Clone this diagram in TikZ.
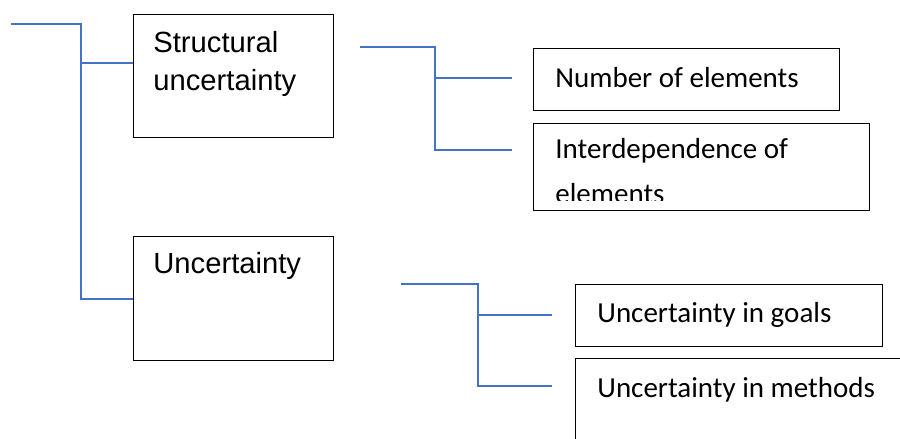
\documentclass[tikz,border=0pt]{standalone}
\usepackage{fontspec}
\setmainfont{Liberation Sans}
\newfontfamily\calibri{Carlito}
\usetikzlibrary{positioning}
\definecolor{linkblue}{RGB}{68,114,196}

\tikzset{
  box/.style={draw=black, line width=0.7pt, inner sep=0pt, anchor=north west},
  arialtxt/.style={font=\fontsize{14.6}{19}\selectfont, inner sep=0pt, align=left, anchor=base west},
  calibtxt/.style={font=\calibri\fontsize{14.5}{22.5}\selectfont, inner sep=0pt, align=left, anchor=base west},
  link/.style={draw=linkblue, line width=0.95pt}
}

\begin{document}
\begin{tikzpicture}[x=0.5pt,y=-0.5pt]
\clip (0,0) rectangle (900,439);

\node[box, minimum width=100pt, minimum height=61.5pt] (S) at (133,14) {};
\node[box, minimum width=100pt, minimum height=62pt] (U) at (133,236) {};
\node[box, minimum width=153pt, minimum height=31pt] (N) at (533,48) {};
\node[box, minimum width=168pt, minimum height=43.5pt] (I) at (533,123) {};
\node[box, minimum width=153.5pt, minimum height=31pt] (G) at (575,284) {};
\node[box, minimum width=170pt, minimum height=50pt] (M) at (575,358) {};

% base anchor sits on the last line
\node[arialtxt] (S-t) at ([shift={(20,76)}]S.north west) {Structural\\uncertainty};
\node[arialtxt] (U-t) at ([shift={(20,37)}]U.north west) {Uncertainty};
\node[calibtxt] (N-t) at ([shift={(22,39)}]N.north west) {Number of elements};
\begin{scope}
\clip (I.north west) rectangle ([yshift=5.5pt]I.south east);
\node[calibtxt] (I-t) at ([shift={(22,80)}]I.north west) {Interdependence of\\elements};
\end{scope}
\node[calibtxt] (G-t) at ([shift={(22,38)}]G.north west) {Uncertainty in goals};
\node[calibtxt] (M-t) at ([shift={(22,39)}]M.north west) {Uncertainty in methods};

\coordinate (root) at (11,24);
\coordinate (fork1) at (81,24);
\coordinate (S-in) at ([yshift=6.75pt]S.west);
\draw[link] (root) -- (fork1) |- (U.west);
\draw[link] (fork1 |- S-in) -- (S-in);

\coordinate (s-from) at (360,47);
\coordinate (fork2) at (435,47);
\coordinate (N-in) at (512,78);
\coordinate (I-in) at (512,150);
\draw[link] (s-from) -- (fork2) |- (I-in);
\draw[link] (fork2 |- N-in) -- (N-in);

\coordinate (u-from) at (401,284);
\coordinate (fork3) at (478,284);
\coordinate (G-in) at (552,315);
\coordinate (M-in) at (552,386);
\draw[link] (u-from) -- (fork3) |- (M-in);
\draw[link] (fork3 |- G-in) -- (G-in);
\end{tikzpicture}
\end{document}
